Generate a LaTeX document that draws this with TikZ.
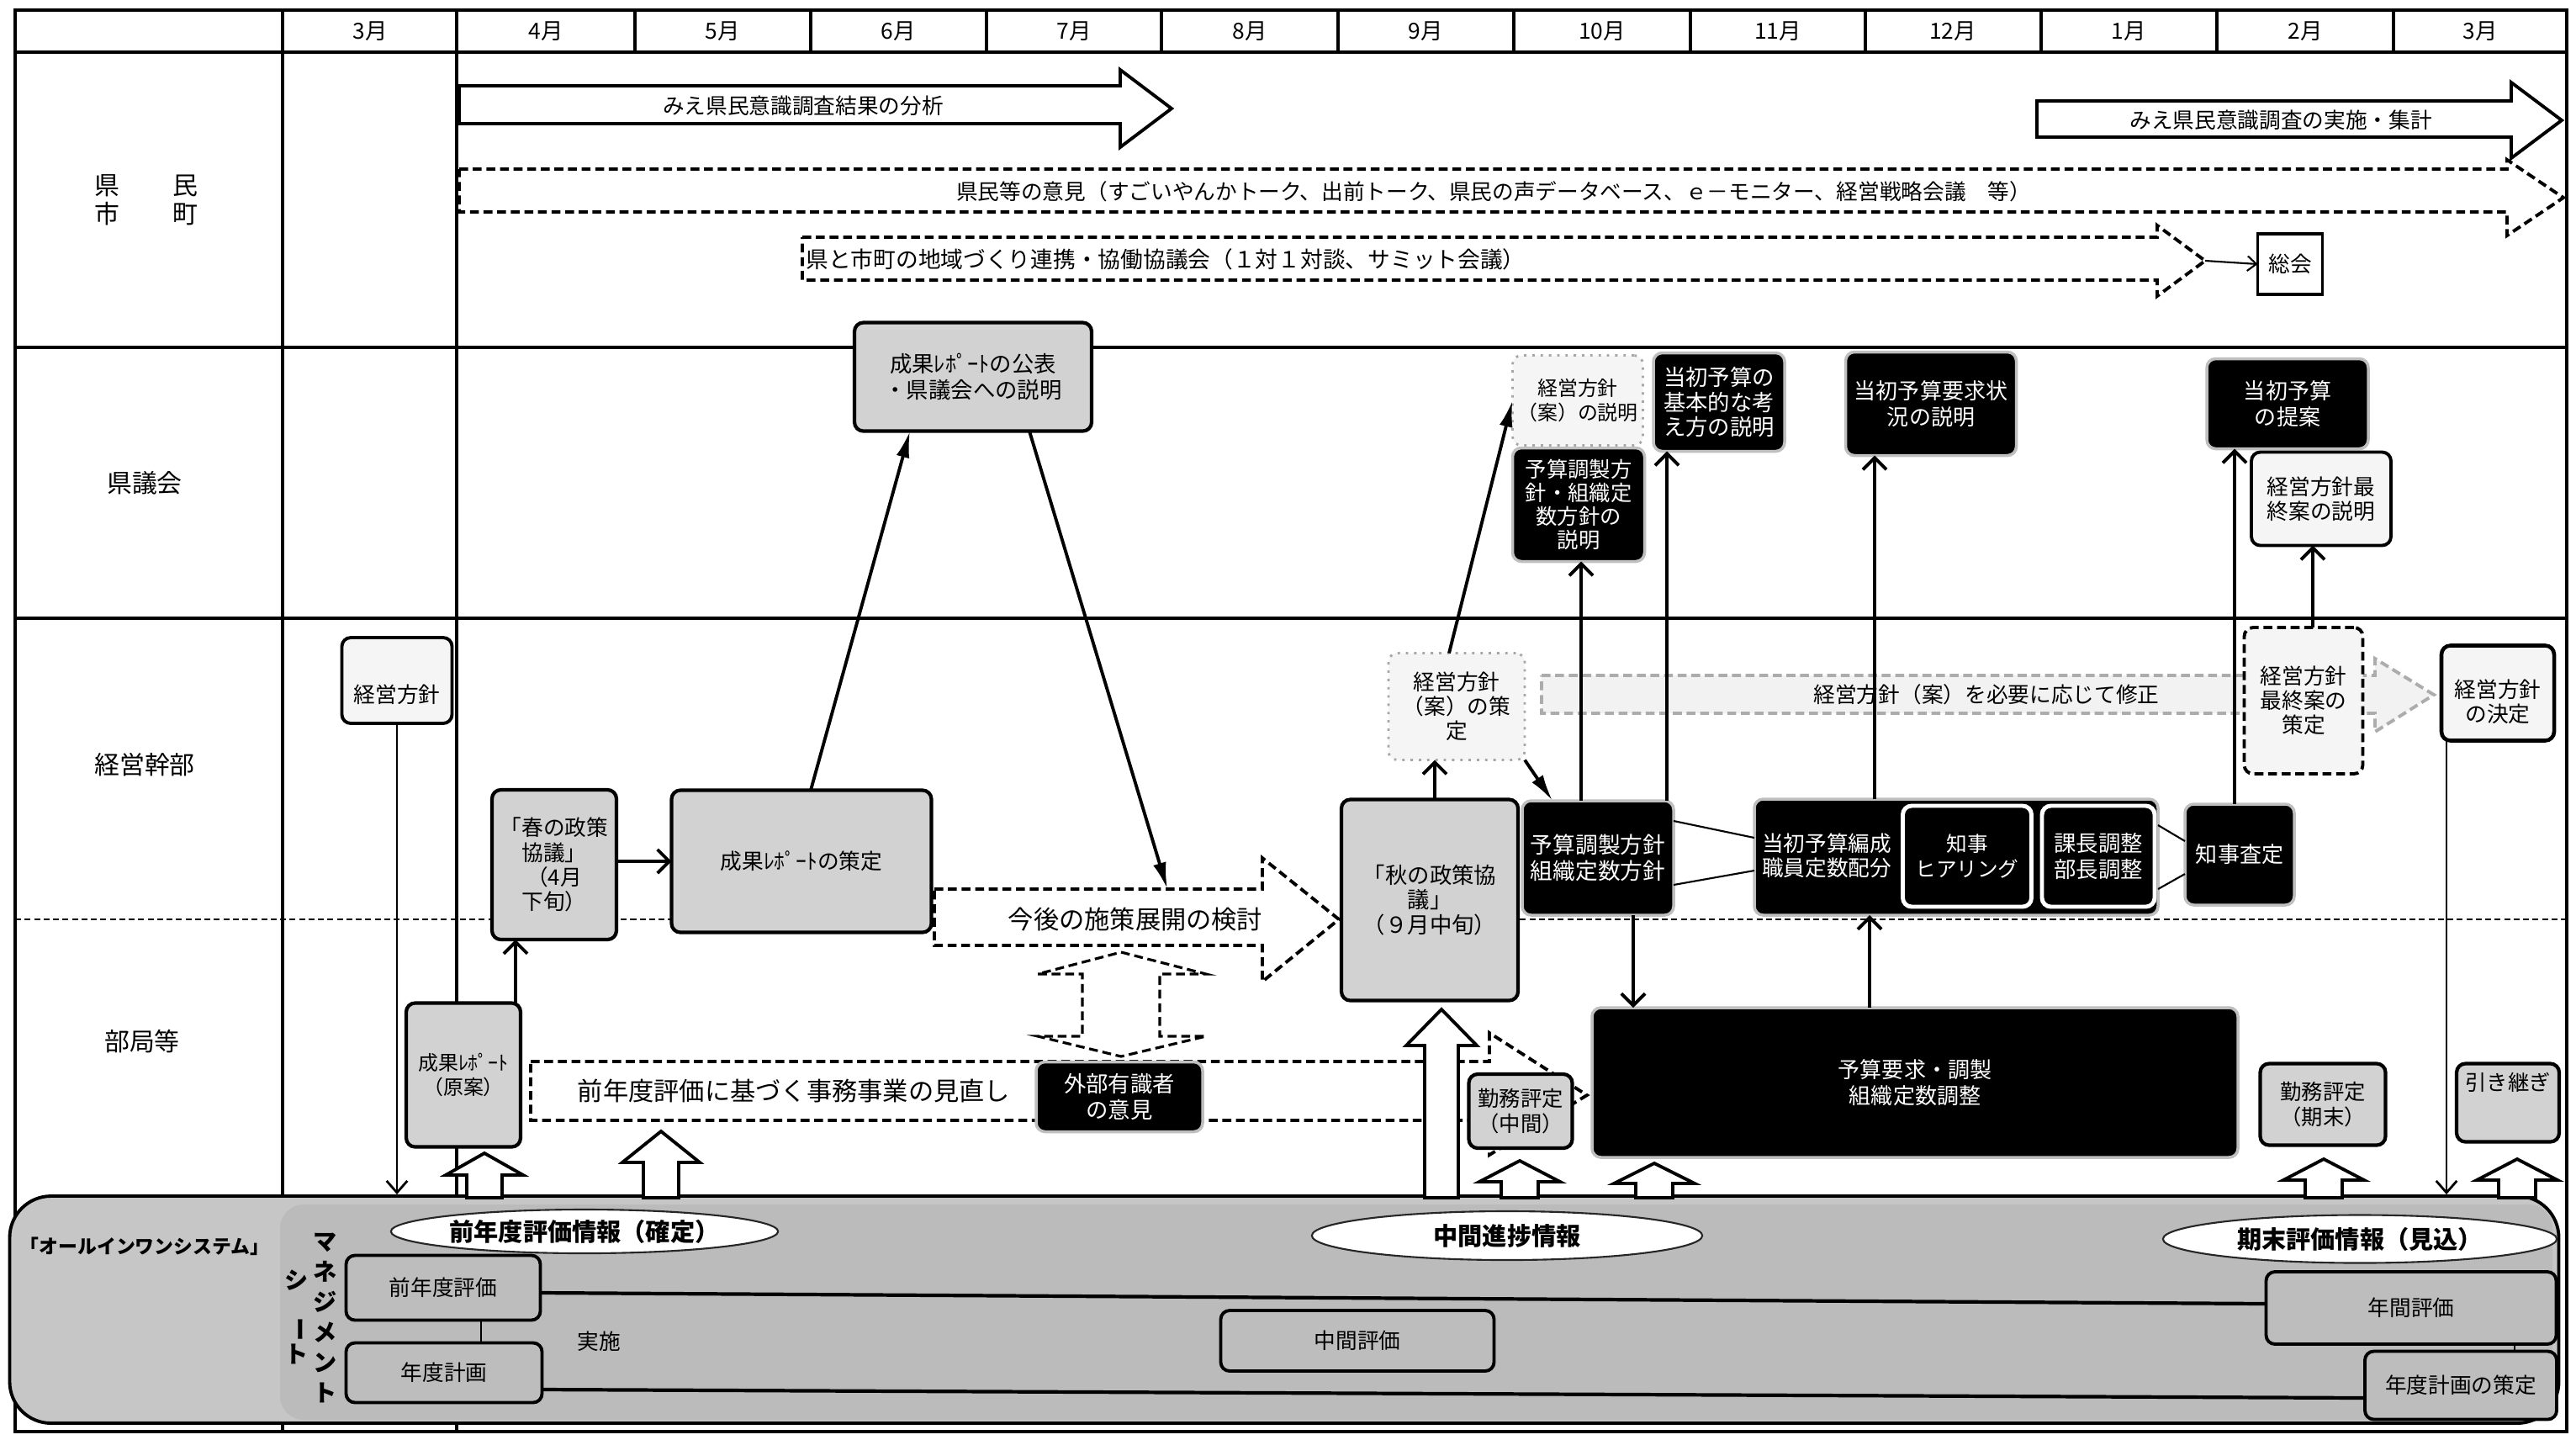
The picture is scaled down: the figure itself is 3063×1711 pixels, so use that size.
\documentclass[tikz,border=0pt]{standalone}
\usepackage{fontspec}
\setmainfont{Noto Sans CJK JP}
\usetikzlibrary{arrows.meta,calc,shapes.geometric}
\newcommand\fsz[2]{\fontsize{#1}{#2}\selectfont}
\newcommand\upblk[6]{\draw[blk] (#1,#2) -- ({#1+#5},#3) -- ({#1+#6},#3) -- ({#1+#6},#4) -- ({#1-#6},#4) -- ({#1-#6},#3) -- ({#1-#5},#3) -- cycle;}
\begin{document}
\begin{tikzpicture}[x=0.01cm,y=-0.01cm,
 sz/.style 2 args={minimum width=#1*0.01cm,minimum height=#2*0.01cm},
 tbl/.style={line width=0.9pt},
 bstyle/.style={inner sep=0pt,outer sep=0pt,align=center,font=\fsz{7.3}{8.3}},
 gbox/.style={bstyle,draw,line width=1.2pt,rounded corners=3pt,fill=gray!35},
 lbox/.style={bstyle,draw,line width=1.1pt,rounded corners=3pt,fill=gray!8},
 dlbox/.style={bstyle,draw=gray!70,line width=0.8pt,dotted,rounded corners=3pt,fill=gray!8},
 kbox/.style={bstyle,draw=gray!50,line width=1pt,rounded corners=3pt,fill=black,text=white},
 ksub/.style={bstyle,draw=white,line width=1.4pt,rounded corners=3pt,fill=black,text=white},
 sbox/.style={bstyle,draw,line width=1.1pt,rounded corners=3pt,fill=gray!52},
 ell/.style={ellipse,draw=gray!30!black,line width=0.6pt,fill=white,inner sep=0pt,font=\fsz{8.3}{10}\bfseries},
 mon/.style={font=\fsz{7.5}{9}},
 rowlab/.style={bstyle,font=\fsz{8.5}{9.8}},
 txt/.style={bstyle},
 blk/.style={draw,line width=1.1pt,fill=white,line join=miter},
 dsh/.style={draw,line width=1.1pt,dash pattern=on 3pt off 1.6pt,fill=white},
 con/.style={line width=1.1pt,-{Straight Barb[length=4pt,width=8pt]}},
 tcon/.style={line width=0.8pt,-{Straight Barb[length=4pt,width=7pt]}},
 scon/.style={line width=1.1pt,-{Latex[length=9pt,width=4.5pt]}},
 link/.style={line width=0.6pt},
 trk/.style={line width=1.2pt},
]
\useasboundingbox (0,0) rectangle (3063,1711);
\fill[white] (0,0) rectangle (3063,1711);

% ---------- table ----------
\draw[tbl] (18,12) rectangle (3052,1702);
\draw[tbl] (18,62) -- (3052,62);
\foreach \xx in {755,964,1173,1381,1591,1800,2010,2218,2427,2636,2846} \draw[tbl] (\xx,12) -- (\xx,62);
\draw[tbl] (336,12) -- (336,1702);
\draw[tbl] (543,12) -- (543,1702);
\draw[tbl] (18,413) -- (3052,413);
\draw[tbl] (18,735) -- (3052,735);
\draw[line width=0.8pt,dash pattern=on 2pt off 1.2pt] (18,1093) -- (3052,1093);

\foreach \cx/\mm/\nm in {440/3月/mA,649/4月/mB,859/5月/mC,1068/6月/mD,1277/7月/mE,1486/8月/mF,1695/9月/mG,1905/10月/mH,2114/11月/mI,2322/12月/mJ,2531/1月/mK,2741/2月/mL,2949/3月/mM}
  \node[mon] (\nm) at (\cx,37) {\mm};

\node[rowlab] (rl1) at (174,238) {県\hspace{2.1em}民\\市\hspace{2.1em}町};
\node[rowlab] (rl2) at (172,574) {県議会};
\node[rowlab] (rl3) at (172,909) {経営幹部};
\node[rowlab] (rl4) at (169,1238) {部局等};

% ---------- row 1 ----------
\draw[blk] (546,102) -- (1332,102) -- (1332,83) -- (1393,129) -- (1332,175) -- (1332,147) -- (546,147) -- cycle;
\node[txt] (a1t) at (955,126) {みえ県民意識調査結果の分析};
\draw[blk] (2422,120) -- (2986,120) -- (2986,98) -- (3046,143) -- (2986,188) -- (2986,163) -- (2422,163) -- cycle;
\node[txt] (a2t) at (2712,143) {みえ県民意識調査の実施・集計};
\draw[dsh] (546,201) -- (2981,201) -- (2981,190) -- (3048,235) -- (2981,280) -- (2981,252) -- (546,252) -- cycle;
\node[txt] (a3t) at (1776,228) {県民等の意見（すごいやんかトーク、出前トーク、県民の声データベース、ｅ－モニター、経営戦略会議　等）};
\draw[dsh] (954,282) -- (2565,282) -- (2565,268) -- (2622,310) -- (2565,352) -- (2565,333) -- (954,333) -- cycle;
\node[txt,font=\fsz{7.6}{9}] (a4t) at (1386,308) {県と市町の地域づくり連携・協働協議会（１対１対談、サミット会議）};
\coordinate (a4tip) at (2622,310);
\node[bstyle,draw,line width=1pt,fill=white,sz={77}{72}] (sokai) at (2723,314) {総会};

% ---------- row 2 ----------
\node[gbox,font=\fsz{7.5}{8.6},sz={282}{129}] (b1) at (1157,448) {成果ﾚﾎﾟｰﾄの公表\\・県議会への説明};
\node[dlbox,font=\fsz{6.8}{8}] (b2) [sz={155}{107}] at (1876,476) {経営方針\\（案）の説明};
\node[kbox,font=\fsz{7.2}{7.9},sz={157}{135}] (b3) at (1877,600) {予算調製方\\針・組織定\\数方針の\\説明};
\node[kbox,font=\fsz{7.5}{8.4},sz={156}{117}] (b4) at (2044,478) {当初予算の\\基本的な考\\え方の説明};
\node[kbox,font=\fsz{7.4}{8.6},sz={203}{123}] (b5) at (2296,480) {当初予算要求状\\況の説明};
\node[kbox,font=\fsz{7.4}{8.6},sz={192}{107}] (b6) at (2720,480) {当初予算\\の提案};
\node[lbox,sz={166}{111}] (b7) at (2760,593) {経営方針最\\終案の説明};

% ---------- row 3 / 4 ----------
\node[lbox,sz={131}{102}] (c1) at (472,809) {};
\node[txt] (c1t) at (472,826) {経営方針};
\node[gbox,sz={148}{178}] (c2) at (659,1028) {「春の政策\\協議」\\（4月\\下旬）};
\node[gbox,sz={309}{169}] (c3) at (953,1024) {成果ﾚﾎﾟｰﾄの策定};
\node[gbox,font=\fsz{6.8}{8.2},sz={136}{171}] (c4) at (551,1278) {成果ﾚﾎﾟｰﾄ\\（原案）};

\draw[dsh] (1111,1057) -- (1501,1057) -- (1501,1020) -- (1592,1093) -- (1501,1167) -- (1501,1124) -- (1111,1124) -- cycle;
\node[txt,font=\fsz{8.6}{10}] (c5t) at (1350,1093) {今後の施策展開の検討};
\coordinate (c5top) at (1388,1057);

\draw[dsh,line width=0.9pt] (1333,1132) -- (1434,1158) -- (1379,1158) -- (1379,1232) -- (1434,1232) -- (1333,1256) -- (1234,1232) -- (1287,1232) -- (1287,1158) -- (1234,1158) -- cycle;

\draw[dsh] (631,1262) -- (1771,1262) -- (1771,1228) -- (1887,1302) -- (1771,1373) -- (1771,1332) -- (631,1332) -- cycle;
\node[txt,font=\fsz{8.6}{10}] (c7t) at (944,1297) {前年度評価に基づく事務事業の見直し};
\node[kbox,font=\fsz{7.5}{8.8},sz={198}{83}] (c8) at (1331,1304) {外部有識者\\の意見};

\node[gbox,font=\fsz{7.5}{8.4},sz={210}{239}] (c9) at (1700,1070) {「秋の政策協\\議」\\（９月中旬）};
\node[dlbox,sz={162}{127}] (c10) at (1732,840) {経営方針\\（案）の策\\定};
\node[kbox,font=\fsz{7.6}{8.8},sz={180}{136}] (c11) at (1900,1020) {予算調製方針\\組織定数方針};
\node[kbox,sz={480}{138}] (c12) at (2326,1019) {};
\node[txt,text=white] (c12t) at (2172,1017) {当初予算編成\\職員定数配分};
\node[ksub,font=\fsz{7}{8.6},sz={153}{120}] (c12a) at (2339,1018) {知事\\ヒアリング};
\node[ksub,font=\fsz{7.5}{8.6},sz={134}{120}] (c12b) at (2495,1018) {課長調整\\部長調整};
\node[kbox,font=\fsz{7.4}{8.6},sz={130}{120}] (c13) at (2663,1016) {知事査定};

\draw[dsh,draw=gray!65,fill=gray!10] (1833,803) -- (2824,803) -- (2824,783) -- (2894,826) -- (2824,870) -- (2824,848) -- (1833,848) -- cycle;
\node[txt] (c14t) at (2362,826) {経営方針（案）を必要に応じて修正};
\node[lbox,dash pattern=on 3pt off 1.6pt,sz={141}{174}] (c15) at (2739,833) {経営方針\\最終案の\\策定};
\node[lbox,line width=1.3pt,sz={134}{113}] (c16) at (2970,824) {};
\node[txt] (c16t) at (2970,834) {経営方針\\の決定};

\node[kbox,font=\fsz{7.4}{8.8},sz={768}{178}] (d1) at (2277,1287) {予算要求・調製\\組織定数調整};
\node[gbox,font=\fsz{7.2}{8.6},sz={123}{88}] (d2) at (1808,1321) {勤務評定\\（中間）};
\node[gbox,font=\fsz{7.2}{8.6},sz={149}{97}] (d3) at (2762,1313) {勤務評定\\（期末）};
\node[gbox,sz={122}{93}] (d4) at (2982,1311) {};
\node[txt,font=\fsz{7.2}{8.6}] (d4t) at (2982,1287) {引き継ぎ};

% ---------- system band ----------
\node[draw,line width=1.1pt,rounded corners=14pt,fill=gray!45,sz={3031}{270},inner sep=0pt] (band) at (1527,1557) {};
\node[fill=gray!53,rounded corners=8pt,sz={2702}{256},inner sep=0pt] (mgmt) at (1684,1560) {};
\node[txt,font=\fsz{6.5}{8}\bfseries] (aios) at (172,1482) {「オールインワンシステム」};
\node[txt,font=\fsz{8}{10.2}\bfseries] (ms1) at (387,1567) {マ\\ネ\\ジ\\メ\\ン\\ト};
\node[txt,font=\fsz{8}{9.6}\bfseries] (ms2) at (353,1566) {シ\\\rotatebox{-90}{ー}\\ト};

\node[sbox,sz={231}{77}] (e1) at (527,1531) {前年度評価};
\node[sbox,sz={233}{71}] (e2) at (528,1632) {年度計画};
\node[sbox,sz={325}{72}] (e3) at (1614,1594) {中間評価};
\node[sbox,sz={345}{86}] (e4) at (2867,1555) {年間評価};
\node[sbox,sz={228}{81}] (e5) at (2926,1647) {年度計画の策定};
\draw[trk] ($(e1.east)+(0,6)$) -- ($(e4.west)+(0,-5)$);
\draw[trk] ($(e2.east)+(0,20)$) -- ($(e5.west)+(0,15)$);
\coordinate (p11) at ($(e1.south)+(45,0)$);
\draw[link] (p11) -- (p11 |- e2.north);
\coordinate (p12) at ($(e5.north)+(64,0)$);
\draw[link] (p12) -- (p12 |- e4.south);
\node[txt] (jisshi) at (712,1595) {実施};

\node[ell,minimum width=4.6cm,minimum height=0.52cm] (l1) at (695,1464) {前年度評価情報（確定）};
\node[ell,minimum width=4.64cm,minimum height=0.58cm] (l2) at (1792,1469) {中間進捗情報};
\node[ell,minimum width=4.68cm,minimum height=0.57cm] (l3) at (2806,1473) {期末評価情報（見込）};

% ---------- block up arrows ----------
\upblk{576}{1371}{1397}{1424}{46}{21}
\upblk{786}{1345}{1382}{1424}{46}{21}
\upblk{1714}{1200}{1243}{1424}{42}{20}
\upblk{1807}{1380}{1405}{1424}{48}{22}
\upblk{1967}{1383}{1407}{1424}{48}{22}
\upblk{2763}{1378}{1403}{1424}{48}{22}
\upblk{2993}{1378}{1403}{1424}{48}{22}

% ---------- connectors ----------
\draw[link,-{Straight Barb[length=3pt,width=5pt]}] (a4tip) -- (sokai.west);
\draw[tcon] (c1.south) -- (c1.south |- band.north);
\coordinate (p1) at ($(c4.north east)+(-6,0)$);
\draw[con] (p1) -- (p1 |- c2.south);
\draw[con] (c2.east |- c3.west) -- (c3.west);
\draw[scon] ($(c3.north)+(11,0)$) -- ($(b1.south)+(-75,0)$);
\draw[scon] ($(b1.south)+(67,0)$) -- (c5top);
\coordinate (p2) at ($(c9.north)+(6,0)$);
\draw[con] (p2) -- (p2 |- c10.south);
\draw[scon] ($(c10.north)+(-9,0)$) -- (b2.west);
\draw[scon] (c10.south east) -- ($(c11.north west)+(36,0)$);
\coordinate (p3) at ($(c11.north)+(-20,0)$);
\draw[con] (p3) -- (p3 |- b3.south);
\coordinate (p4) at ($(c11.north)+(82,0)$);
\draw[con] (p4) -- (p4 |- b4.south);
\coordinate (p5) at ($(c11.south)+(42,0)$);
\draw[con] (p5) -- (p5 |- d1.north);
\coordinate (p6) at ($(c12.south)+(-103,0)$);
\draw[con] (p6 |- d1.north) -- (p6);
\coordinate (p7) at ($(c12.north)+(-97,0)$);
\draw[con] (p7) -- (p7 |- b5.south);
\coordinate (p8) at ($(c13.north)+(-6,0)$);
\draw[con] (p8) -- (p8 |- b6.south);
\coordinate (p9) at ($(c15.north)+(11,0)$);
\draw[con] (p9) -- (p9 |- b7.south);
\coordinate (p10) at ($(c16.south)+(-61,0)$);
\draw[tcon] (p10) -- (p10 |- band.north);
\draw[link] ($(c11.north east)+(0,24)$) -- ($(c12.north west)+(0,46)$);
\draw[link] ($(c11.south east)+(0,-36)$) -- ($(c12.south west)+(0,-53)$);
\draw[link] ($(c12.north east)+(0,31)$) -- ($(c13.north west)+(0,44)$);
\draw[link] ($(c12.south east)+(0,-31)$) -- ($(c13.south west)+(0,-37)$);
\end{tikzpicture}
\end{document}
